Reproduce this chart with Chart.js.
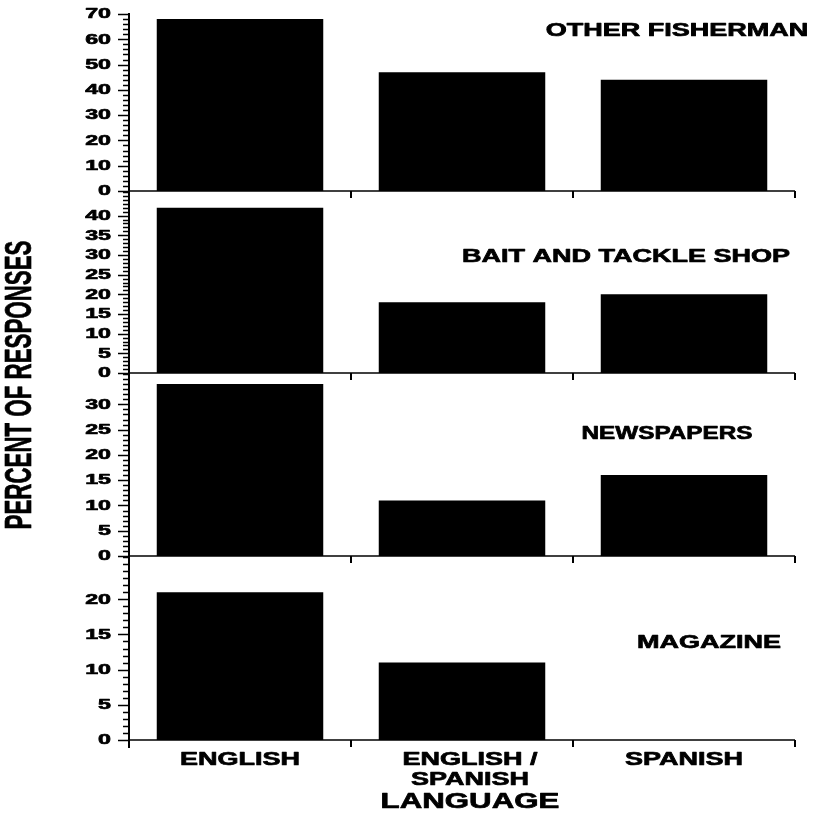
<!DOCTYPE html>
<html>
<head>
<meta charset="utf-8">
<script src="https://cdn.jsdelivr.net/npm/chart.js@4.4.1/dist/chart.umd.min.js"></script>
<style>
  html, body { margin: 0; padding: 0; background: #fff; }
  #wrap { position: relative; width: 814px; height: 814px; background: #fff; }
  #wrap canvas { position: absolute; left: 0; top: 0; }
</style>
</head>
<body>
<div id="wrap">
  <canvas id="p1" width="814" height="814"></canvas>
  <canvas id="p2" width="814" height="814"></canvas>
  <canvas id="p3" width="814" height="814"></canvas>
  <canvas id="p4" width="814" height="814"></canvas>
</div>
<script>
// Categories (multi-line labels) and the percentage of responses per source
const languages = [['ENGLISH'], ['ENGLISH /', 'SPANISH'], ['SPANISH']];
const otherFisherman   = [68, 47, 44];
const baitAndTackle    = [42, 18, 20];
const newspapers       = [34, 11, 16];
const magazine         = [21, 11, 0];

// Labelled y ticks of each panel
const fishermanTicks = [0, 10, 20, 30, 40, 50, 60, 70];
const shopTicks      = [0, 5, 10, 15, 20, 25, 30, 35, 40];
const newspaperTicks = [0, 5, 10, 15, 20, 25, 30];
const magazineTicks  = [0, 5, 10, 15, 20];

const panelTitles = ['OTHER FISHERMAN', 'BAIT AND TACKLE SHOP', 'NEWSPAPERS', 'MAGAZINE'];
const xTitle = 'LANGUAGE';
const yTitle = 'PERCENT OF RESPONSES';

// Geometry of the four stacked panels
const PLOT_LEFT = 129, PLOT_RIGHT = 795, X_AXIS_H = 10;
const panels = [
  { id: 'p1', title: panelTitles[0], values: otherFisherman, ticks: fishermanTicks, max: 70, minor: 2, top: 14,  bottom: 191, titleX: 677, titleY: 31,  titleSx: 1.5 },
  { id: 'p2', title: panelTitles[1], values: baitAndTackle,  ticks: shopTicks,      max: 46, minor: 1, top: 192, bottom: 373, titleX: 626, titleY: 257, titleSx: 1.5 },
  { id: 'p3', title: panelTitles[2], values: newspapers,     ticks: newspaperTicks, max: 36, minor: 1, top: 374, bottom: 556, titleX: 667, titleY: 434, titleSx: 1.35 },
  { id: 'p4', title: panelTitles[3], values: magazine,       ticks: magazineTicks,  max: 26, minor: 1, top: 557, bottom: 740, titleX: 709, titleY: 643, titleSx: 1.5, last: true }
];

const FONT = '"Liberation Sans", Arial, Helvetica, sans-serif';

// Heavy bold text stretched (or squeezed) along its own direction
function wideText(ctx, text, x, y, size, sx, align, rotate) {
  ctx.save();
  ctx.translate(x, y);
  if (rotate) ctx.rotate(rotate);
  ctx.scale(sx, 1);
  ctx.font = `bold ${size}px ${FONT}`;
  ctx.textAlign = align || 'center';
  ctx.textBaseline = 'middle';
  ctx.fillStyle = '#000';
  ctx.strokeStyle = '#000';
  ctx.lineWidth = 0.7;
  ctx.lineJoin = 'round';
  ctx.fillText(text, 0, 0);
  ctx.strokeText(text, 0, 0);
  ctx.restore();
}

function panelAxes(p) {
  return {
    id: 'panelAxes',
    afterDatasetsDraw(chart) {
      const { ctx, chartArea: a, scales: { x, y } } = chart;
      ctx.save();
      ctx.strokeStyle = '#000';
      ctx.lineCap = 'butt';

      // vertical axis line
      ctx.lineWidth = 2;
      ctx.beginPath();
      ctx.moveTo(a.left, a.top - 1);
      ctx.lineTo(a.left, a.bottom + (p.last ? 8 : 2));
      ctx.stroke();

      // major and minor tick marks
      ctx.lineWidth = 1.5;
      for (let v = 0; v <= p.max + 1e-9; v += p.minor) {
        const py = Math.round(y.getPixelForValue(v)) + 0.5;
        const len = p.ticks.includes(v) ? 11 : 6;
        ctx.beginPath();
        ctx.moveTo(a.left - len, py);
        ctx.lineTo(a.left, py);
        ctx.stroke();
      }
      p.ticks.forEach(v => wideText(ctx, String(v), a.left - 18, y.getPixelForValue(v), 15.5, 1.5, 'right'));

      // baseline with category boundary ticks
      const y0 = y.getPixelForValue(0);
      ctx.lineWidth = 1.5;
      ctx.beginPath();
      ctx.moveTo(a.left, y0);
      ctx.lineTo(a.right, y0);
      ctx.stroke();
      ctx.lineWidth = 2;
      for (let i = 0; i < languages.length; i++) {
        const bx = x.getPixelForValue(i + 0.5);
        ctx.beginPath();
        ctx.moveTo(bx, y0);
        ctx.lineTo(bx, y0 + 7);
        ctx.stroke();
      }

      // panel title
      wideText(ctx, p.title, p.titleX, p.titleY, 18, p.titleSx, 'center');

      if (p.last) {
        // category labels and axis titles
        languages.forEach((lines, i) => {
          const cx = x.getPixelForValue(i) + (lines.length > 1 ? 8 : 0);
          lines.forEach((t, k) => wideText(ctx, t, cx, 760 + k * 20, 18, 1.5, 'center'));
        });
        wideText(ctx, xTitle, 470, 802, 22, 1.42, 'center');
        wideText(ctx, yTitle, 21, 385, 36, 0.62, 'center', -Math.PI / 2);
      }
      ctx.restore();
    }
  };
}

panels.forEach(p => {
  new Chart(document.getElementById(p.id), {
    type: 'bar',
    data: {
      labels: languages,
      datasets: [{
        data: p.values,
        backgroundColor: '#000',
        borderWidth: 0,
        barPercentage: 0.75,
        categoryPercentage: 1
      }]
    },
    options: {
      responsive: false,
      animation: false,
      events: [],
      layout: { padding: { left: 0, right: 814 - PLOT_RIGHT, top: p.top, bottom: 814 - p.bottom - X_AXIS_H } },
      plugins: { legend: { display: false }, tooltip: { enabled: false } },
      scales: {
        x: {
          ticks: { display: false },
          grid: { display: false },
          border: { display: false },
          afterFit(s) { s.height = X_AXIS_H; }
        },
        y: {
          min: 0,
          max: p.max,
          ticks: { display: false },
          grid: { display: false },
          border: { display: false },
          afterFit(s) { s.width = PLOT_LEFT; }
        }
      }
    },
    plugins: [panelAxes(p)]
  });
});
</script>
</body>
</html>
